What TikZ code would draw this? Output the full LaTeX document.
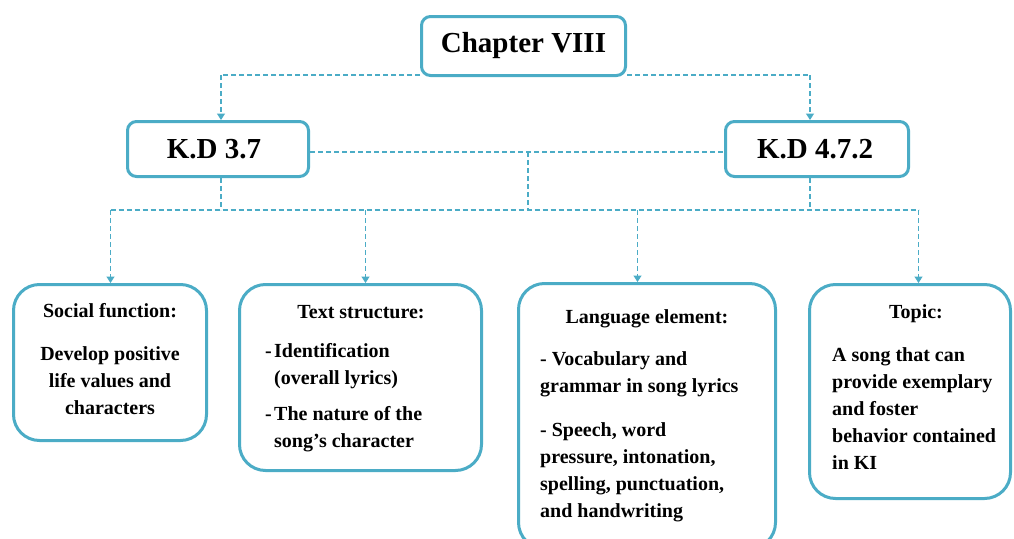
\documentclass[tikz,border=0pt]{standalone}
\usepackage{fontspec}
\setmainfont{Liberation Serif}
\usetikzlibrary{arrows.meta}
\definecolor{teal}{RGB}{75,172,198}
\begin{document}
\begin{tikzpicture}[x=1pt,y=-1pt,
  topbox/.style={draw=teal,line width=3pt,rounded corners=9pt,inner sep=0pt,fill=white},
  botbox/.style={draw=teal,line width=3pt,rounded corners=26pt,inner sep=0pt,fill=white},
  conn/.style={draw=teal,line width=1.4pt,dash pattern=on 5pt off 3pt},
  arr/.style={conn,-{Triangle[width=8pt,length=6.5pt]}},
  txt/.style={inner sep=0pt,font=\bfseries\fontsize{20}{27}\selectfont},
  big/.style={inner sep=0pt,font=\bfseries\fontsize{29}{32}\selectfont}]
\useasboundingbox (0,0) rectangle (1014,538);
% boxes
\node[topbox,minimum width=204pt,minimum height=59pt] (chap) at (523.5,46) {};
\node[big] (chapt) at (523.5,46) {Chapter VIII};
\node[topbox,minimum width=181pt,minimum height=55pt] (kd1) at (218,149) {};
\node[big] (kd1t) at (214,149) {K.D 3.7};
\node[topbox,minimum width=183pt,minimum height=55pt] (kd2) at (817,149) {};
\node[big] (kd2t) at (815,149) {K.D 4.7.2};
\node[botbox,minimum width=193pt,minimum height=156pt] (b1) at (110,362.5) {};
\node[botbox,minimum width=242pt,minimum height=186pt] (b2) at (360.5,377.5) {};
\node[botbox,minimum width=257pt,minimum height=265pt] (b3) at (647,416) {};
\node[botbox,minimum width=201pt,minimum height=214pt] (b4) at (910,391.5) {};
% junction coordinates
\coordinate (cl) at (221,75);
\coordinate (cr) at (810,75);
\coordinate (mid) at (528,152);
\coordinate (midb) at (528,210);
\coordinate (l1) at (221,210);
\coordinate (r1) at (810,210);
\coordinate (j1) at (110.5,210);
\coordinate (j2) at (365.5,210);
\coordinate (j3) at (637.5,210);
\coordinate (j4) at (918.5,210);
% connectors
\draw[conn] (chap.west |- cl) -- (cl);
\draw[arr] (cl) -- (cl |- kd1.north);
\draw[conn] (chap.east |- cr) -- (cr);
\draw[arr] (cr) -- (cr |- kd2.north);
\draw[conn] (kd1.east |- mid) -- (kd2.west |- mid);
\draw[conn] (mid) -- (midb);
\draw[conn] (cl |- kd1.south) -- (l1);
\draw[conn] (cr |- kd2.south) -- (r1);
\draw[conn] (j1) -- (j4);
\draw[arr] (j1) -- (j1 |- b1.north);
\draw[arr] (j2) -- (j2 |- b2.north);
\draw[arr] (j3) -- (j3 |- b3.north);
\draw[arr] (j4) -- (j4 |- b4.north);
% texts
\node[txt] (b1h) at (110,311) {Social function:};
\node[txt,align=center] (b1b) at (110,380.5) {Develop positive\\life values and\\characters};
\node[txt] (b2h) at (361,312) {Text structure:};
\node[txt,align=left,anchor=west] (b2b) at (265,398) {\makebox[9pt][l]{-}Identification\\\hspace*{9pt}(overall lyrics)\\[9pt]\makebox[9pt][l]{-}The nature of the\\\hspace*{9pt}song’s character};
\node[txt] (b3h) at (647,319) {Language element:};
\node[txt,align=left,anchor=west] (b3b) at (540,436.5) {- Vocabulary and\\grammar in song lyrics\\[17pt]- Speech, word\\pressure, intonation,\\spelling, punctuation,\\and handwriting};
\node[txt] (b4h) at (916,314) {Topic:};
\node[txt,align=left,anchor=west] (b4b) at (832,409) {A song that can\\provide exemplary\\and foster\\behavior contained\\in KI};
\end{tikzpicture}
\end{document}
